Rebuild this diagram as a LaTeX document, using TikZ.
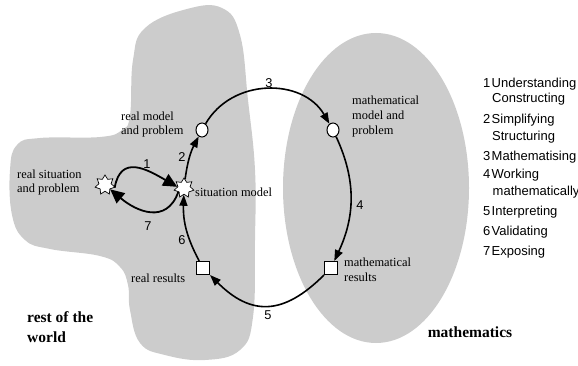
\documentclass[tikz,border=0pt]{standalone}
\usepackage{fontspec}
\setmainfont{Liberation Serif}
\setsansfont{Liberation Sans}
\usetikzlibrary{shapes.geometric,arrows.meta}
\definecolor{blobgray}{RGB}{204,204,204}
\begin{document}
\begin{tikzpicture}[x=1pt,y=1pt,
  lbl/.style={font=\fontsize{12.4}{14}\selectfont, align=left, inner sep=0pt, anchor=west},
  big/.style={font=\fontsize{15.5}{20}\selectfont\bfseries, align=left, inner sep=0pt},
  num/.style={font=\sffamily\fontsize{12.8}{15}\selectfont, inner sep=0pt},
  item/.style={font=\sffamily\fontsize{13}{15}\selectfont, inner sep=0pt, anchor=base west},
  starnode/.style={star, star points=7, star point ratio=1.6, minimum size=20pt, inner sep=0pt, draw, line width=0.7pt, fill=white},
  circnode/.style={ellipse, minimum width=12pt, minimum height=14pt, inner sep=0pt, draw, line width=1pt, fill=white},
  sqnode/.style={rectangle, minimum size=13pt, inner sep=0pt, draw, line width=1pt, fill=white},
  cyc/.style={line width=1.6pt, -{Triangle[length=11pt,width=8pt]}},
  loopar/.style={line width=1.8pt, -{Triangle[length=14pt,width=13pt]}}]
\useasboundingbox (0,0) rectangle (578,365);
% rest of the world
\fill[blobgray] plot[smooth cycle, tension=0.7] coordinates {
  (187,356) (222,357) (240,330) (248,265) (255,195) (255,125) (253,48)
  (240,15) (205,5) (165,10) (140,22) (130,55) (128,80) (120,98) (100,109)
  (50,116) (25,125) (12,150) (10,195) (17,220) (40,227) (100,228) (122,235)
  (130,250) (133,305) (145,337)};
% mathematics
\fill[blobgray] (376,177) ellipse [x radius=93, y radius=155];
% nodes
\node[starnode] (ls) at (105,180) {};
\node[starnode] (sm) at (184,177) {};
\node[circnode] (rm) at (202,235) {};
\node[circnode] (mm) at (333,235) {};
\node[sqnode] (mr) at (331,97) {};
\node[sqnode] (rr) at (203,97) {};
% connectors
\draw[cyc] (sm) to[bend left=10] (rm);
\draw[cyc] (rm) to[out=60,in=120,looseness=1.1] (mm);
\draw[cyc] (mm) to[out=-65,in=65] (mr);
\draw[cyc] (mr) to[out=-135,in=-45,looseness=1.3] (rr);
\draw[cyc] (rr) to[bend left=15] (sm);
\draw[loopar] (ls.-15) to[out=80,in=150,looseness=1.4] (sm.170);
\draw[loopar] (sm.-145) to[out=-110,in=-40,looseness=1.3] (ls.-40);
% labels
\node[lbl] (t-rm) at (121,240) {real model\\and problem};
\node[lbl] (t-ls) at (17,182) {real situation\\and problem};
\node[lbl] (t-sm) at (195,173) {situation model};
\node[lbl] (t-rr) at (131,87) {real results};
\node[lbl, font=\fontsize{12.4}{15}\selectfont] (t-mm) at (352,248) {mathematical\\model and\\problem};
\node[lbl, font=\fontsize{12.4}{15}\selectfont] (t-mr) at (344,95) {mathematical\\results};
\node[big, anchor=west] (t-rw) at (27,38) {rest of the\\world};
\node[big] (t-m) at (470,33) {mathematics};
% step numbers
\node[num] (n1) at (147,201) {1};
\node[num] (n7) at (148,139) {7};
\node[num] (n2) at (182,208) {2};
\node[num] (n6) at (182,125) {6};
\node[num] (n3) at (269,282) {3};
\node[num] (n4) at (360,160) {4};
\node[num] (n5) at (268,50) {5};
% legend
\node[item] (k1) at (483,277) {1};
\node[item] (w1) at (491.5,277) {Understanding};
\node[item] (w1b) at (492,262) {Constructing};
\node[item] (k2) at (483,242) {2};
\node[item] (w2) at (491.5,242) {Simplifying};
\node[item] (w2b) at (492,225) {Structuring};
\node[item] (k3) at (483,205) {3};
\node[item] (w3) at (491.5,205) {Mathematising};
\node[item] (k4) at (483,187) {4};
\node[item] (w4) at (491.5,187) {Working};
\node[item] (w4b) at (492.5,170) {mathematically};
\node[item] (k5) at (483,150) {5};
\node[item] (w5) at (491.5,150) {Interpreting};
\node[item] (k6) at (483,130) {6};
\node[item] (w6) at (491.5,130) {Validating};
\node[item] (k7) at (483,110) {7};
\node[item] (w7) at (491.5,110) {Exposing};
\end{tikzpicture}
\end{document}
